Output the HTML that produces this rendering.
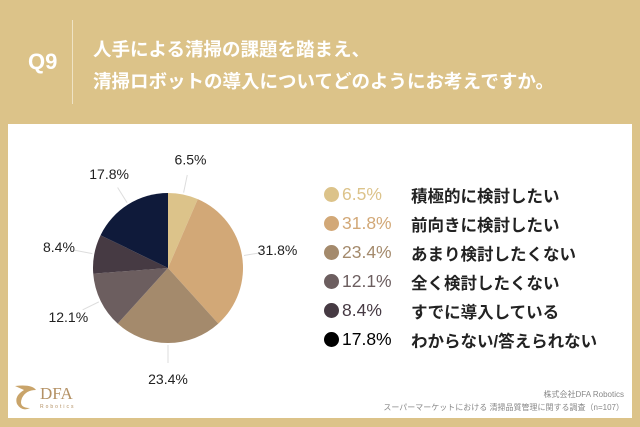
<!DOCTYPE html>
<html><head><meta charset="utf-8"><style>
body{margin:0;width:640px;height:427px;background:#dcc389;position:relative;overflow:hidden;font-family:"Liberation Sans","Noto Sans CJK JP",sans-serif}
.abs{position:absolute}
</style></head><body>
<div class="abs" style="left:28px;top:49px;color:#fff;font-size:22px;font-weight:bold">Q9</div>
<div class="abs" style="left:72px;top:20px;width:1px;height:84px;background:#efe3c4"></div>
<div class="abs" style="left:93px;top:34px;color:#fff;font-size:18.5px;font-weight:bold;line-height:32px;white-space:nowrap">人手による清掃の課題を踏まえ、<br>清掃ロボットの導入についてどのようにお考えですか。</div>
<div class="abs" style="left:8px;top:124px;width:624px;height:294px;background:#fff"></div>
<svg class="abs" style="left:0;top:0" width="640" height="427" id="pie"></svg>
<div class="abs" id="legend" style="left:0;top:0"></div>
<div class="abs" style="left:12px;top:382px;width:70px;height:32px">
<svg width="26" height="30" style="position:absolute;left:0;top:0"><path d="M3 4 Q20 2 24 8 Q14 8 10 16 Q6 26 18 26 Q10 30 5 22 Q2 14 12 8 Z" fill="#c9a46a"/></svg>
<div style="position:absolute;left:28px;top:2px;font-family:'Liberation Serif',serif;font-size:17px;color:#b49164">DFA</div>
<div style="position:absolute;left:28px;top:22px;font-size:5px;letter-spacing:2px;color:#b49164">Robotics</div>
</div>
<div class="abs" style="right:16px;top:389px;font-size:8px;color:#888;text-align:right">株式会社DFA Robotics</div>
<div class="abs" style="right:16px;top:402px;font-size:8px;color:#888;text-align:right">スーパーマーケットにおける 清掃品質管理に関する調査（n=107）</div>
<script>
const categories=["積極的に検討したい","前向きに検討したい","あまり検討したくない","全く検討したくない","すでに導入している","わからない/答えられない"];
const values=[6.5,31.8,23.4,12.1,8.4,17.8];
const valueLabels=["6.5%","31.8%","23.4%","12.1%","8.4%","17.8%"];
const colors=["#dcc38a","#d2a877","#a48a6c","#6c5e5f","#463a43","#0f1a3a"];
const legendColors=["#dcc38a","#d2a877","#a48a6c","#6c5e5f","#463a43","#000"];
const ns="http://www.w3.org/2000/svg";
const svg=document.getElementById('pie');
const cx=168,cy=268,R=75;
const total=values.reduce((a,b)=>a+b,0);
function pt(frac,r){const a=frac*2*Math.PI;return [cx+r*Math.sin(a),cy-r*Math.cos(a)];}
let acc=0;
values.forEach((v,i)=>{
 const s=acc/total,e=(acc+v)/total;acc+=v;
 const [x1,y1]=pt(s,R),[x2,y2]=pt(e,R);
 const p=document.createElementNS(ns,'path');
 p.setAttribute('d',`M${cx},${cy}L${x1},${y1}A${R},${R} 0 ${e-s>0.5?1:0} 1 ${x2},${y2}Z`);
 p.setAttribute('fill',colors[i]);
 
 
 svg.appendChild(p);
 const m=(s+e)/2;
 const [lx1,ly1]=pt(m,R+2),[lx2,ly2]=pt(m,R+20);
 const l=document.createElementNS(ns,'line');
 l.setAttribute('x1',lx1);l.setAttribute('y1',ly1);l.setAttribute('x2',lx2);l.setAttribute('y2',ly2);
 l.setAttribute('stroke','#ddd');l.setAttribute('stroke-width','1');
 
 
 svg.appendChild(l);
 const [tx,ty]=pt(m,R+36);
 const t=document.createElementNS(ns,'text');
 t.setAttribute('x',tx);t.setAttribute('y',ty+5);t.setAttribute('text-anchor','middle');
 t.setAttribute('font-size','14');t.setAttribute('fill','#222');
 t.setAttribute('font-family','Liberation Sans, sans-serif');
 t.textContent=valueLabels[i];
 
 
 svg.appendChild(t);
});
const lg=document.getElementById('legend');
categories.forEach((c,i)=>{
 const y=195+i*29;
 const d=document.createElement('div');
 d.style.cssText=`position:absolute;left:324px;top:${y-8}px;width:15px;height:15px;border-radius:50%;background:${legendColors[i]}`;
 
 
 lg.appendChild(d);
 const p=document.createElementNS ? document.createElement('div') : null;
 p.style.cssText=`position:absolute;left:342px;top:${y-11}px;font-size:17.5px;color:${i==5?'#000':colors[i]};white-space:nowrap`;
 p.textContent=valueLabels[i];
 
 
 lg.appendChild(p);
 const n=document.createElement('div');
 n.style.cssText=`position:absolute;left:411px;top:${y-12}px;font-size:16.5px;font-weight:bold;color:#222;white-space:nowrap`;
 n.textContent=c;
 
 
 lg.appendChild(n);
});
</script>
</body></html>
